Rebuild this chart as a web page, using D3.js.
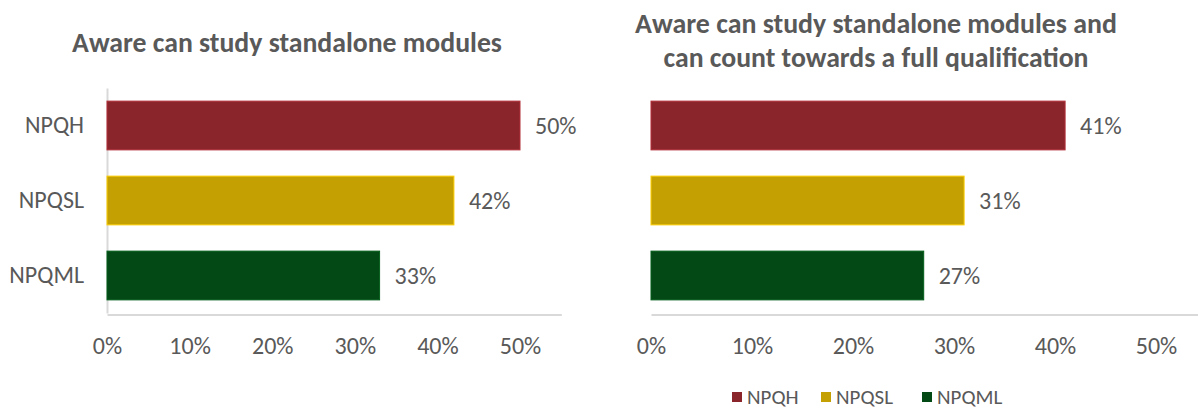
<!DOCTYPE html>
<html>
<head>
<meta charset="utf-8">
<script src="https://cdn.jsdelivr.net/npm/d3@7"></script>
<style>
  html, body { margin: 0; padding: 0; background: #fff; }
  svg { display: block; font-family: Carlito, Lato, "Open Sans", sans-serif; }
</style>
</head>
<body>
<svg id="chart" width="1198" height="410"></svg>
<script>
// ---- data ----
const categories = ["NPQH", "NPQSL", "NPQML"];
const standaloneValues = [0.50, 0.42, 0.33];
const qualificationValues = [0.41, 0.31, 0.27];
const tickValues = [0, 0.1, 0.2, 0.3, 0.4, 0.5];
const colors = ["#8a252c", "#c4a002", "#034915"];
const leftTitle = ["Aware can study standalone modules"];
const rightTitle = ["Aware can study standalone modules and", "can count towards a full qualification"];

const svg = d3.select("#chart");
const textColor = "#595959";
const axisColor = "#d9d9d9";
const fmt = d3.format(".0%");
const colorScale = d3.scaleOrdinal().domain(categories).range(colors);

function fitWidth(textSel, target) {
  const node = textSel.node();
  const w = node.getComputedTextLength();
  const fs = parseFloat(textSel.attr("font-size"));
  textSel.attr("font-size", (fs * target / w).toFixed(2));
}

function panel(opts) {
  const g = svg.append("g");
  const x = d3.scaleLinear().domain([0, 0.55]).range([opts.x0, opts.x0 + opts.pxPer10 * 5.5]);
  const y = d3.scaleBand().domain(categories).range([88, 313]).paddingInner(0.35).paddingOuter(0.175);

  // x axis (baseline + tick labels)
  const xAxis = g.append("g")
    .attr("transform", "translate(0,314.5)")
    .call(d3.axisBottom(x).tickValues(tickValues).tickFormat(fmt).tickSize(0).tickSizeOuter(0).tickPadding(22));
  xAxis.select(".domain").attr("stroke", axisColor).attr("stroke-width", 2);
  xAxis.selectAll("text").attr("fill", textColor).attr("font-size", 24).attr("font-family", "Carlito, Lato, sans-serif");

  if (opts.showY) {
    const yAxis = g.append("g")
      .attr("transform", `translate(${opts.x0},0)`)
      .call(d3.axisLeft(y).tickSize(0).tickSizeOuter(0).tickPadding(23));
    yAxis.select(".domain").attr("stroke", axisColor).attr("stroke-width", 2);
    yAxis.selectAll("text").attr("fill", textColor).attr("font-size", 24).attr("font-family", "Carlito, Lato, sans-serif");
  }

  // bars
  g.selectAll("rect.bar").data(opts.values).join("rect")
    .attr("class", "bar")
    .attr("x", x(0))
    .attr("y", (d, i) => y(categories[i]))
    .attr("width", d => x(d) - x(0))
    .attr("height", y.bandwidth())
    .attr("fill", (d, i) => colorScale(categories[i]))
    .attr("stroke", (d, i) => d3.color(colorScale(categories[i])).brighter(0.7))
    .attr("stroke-width", 1);

  // value labels
  g.selectAll("text.val").data(opts.values).join("text")
    .attr("class", "val")
    .attr("x", d => x(d) + 15)
    .attr("y", (d, i) => y(categories[i]) + y.bandwidth() / 2)
    .attr("dy", "0.35em")
    .attr("fill", textColor)
    .attr("font-size", 24)
    .text(d => fmt(d));

  // title
  opts.title.forEach((t, i) => {
    const tt = g.append("text")
      .attr("x", opts.titleX)
      .attr("y", opts.titleY + i * 34.5)
      .attr("text-anchor", "middle")
      .attr("font-weight", "bold")
      .attr("font-size", 22)
      .attr("fill", textColor)
      .text(t);
    fitWidth(tt, opts.titleW[i]);
  });
}

panel({ values: standaloneValues, x0: 107, pxPer10: 82.6, showY: true,
        title: leftTitle, titleX: 287, titleY: 52, titleW: [430] });
panel({ values: qualificationValues, x0: 651, pxPer10: 101, showY: false,
        title: rightTitle, titleX: 876, titleY: 32.5, titleW: [482, 425] });

// legend
const legendX = [732, 821, 922];
const lg = svg.append("g").attr("transform", "translate(0,397)");
const items = lg.selectAll("g").data(categories).join("g")
  .attr("transform", (d, i) => `translate(${legendX[i]},0)`);
items.append("rect").attr("x", 0).attr("y", -5).attr("width", 10).attr("height", 10)
  .attr("fill", d => colorScale(d));
items.append("text").attr("x", 15).attr("dy", "0.35em")
  .attr("fill", textColor).attr("font-size", 21).text(d => d);
</script>
</body>
</html>
